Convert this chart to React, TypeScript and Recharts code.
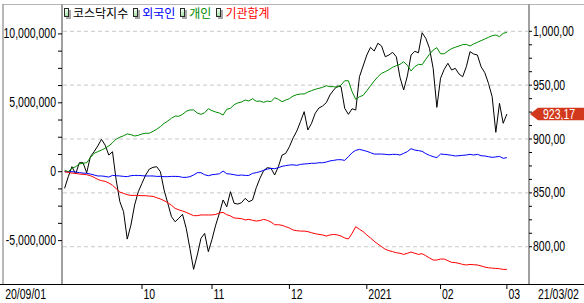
import { Customized, Line, LineChart, ReferenceLine, XAxis, YAxis } from "recharts";

// trading-day index 0 = 20/09/01, 120 = 21/03/02
const MONTH_TICKS = [21, 40, 61, 82, 102, 120];
const MONTH_LABELS = ["10", "11", "12", "2021", "02", "03"];
const START_LABEL = "20/09/01";
const END_LABEL = "21/03/02";

// KOSDAQ index (right axis)
const kosdaq = [
  854.2, 865.0, 874.3, 867.5, 878.0, 878.0, 868.7, 883.6, 888.2, 893.5,
  899.7, 894.4, 885.1, 888.2, 861.9, 841.8, 832.5, 807.1, 820.1, 838.7,
  851.1, 858.9, 866.6, 872.1, 873.7, 874.3, 869.6, 852.6, 840.3, 827.9,
  823.2, 826.4, 830.1, 817.1, 798.5, 779.0, 792.3, 807.8, 812.4, 795.4,
  806.9, 820.1, 831.0, 843.4, 837.1, 851.1, 840.3, 839.6, 840.9, 844.9,
  841.8, 843.4, 854.8, 863.5, 870.6, 873.4, 872.8, 866.6, 874.3, 885.1,
  886.7, 892.9, 901.0, 907.4, 916.1, 925.4, 908.4, 914.6, 923.9, 928.8,
  930.6, 933.7, 940.9, 945.5, 949.2, 948.6, 928.5, 922.9, 928.1, 926.9,
  957.8, 967.8, 978.0, 985.1, 981.7, 988.9, 986.4, 976.4, 978.0, 980.5,
  976.4, 957.3, 945.5, 958.6, 978.0, 981.4, 980.1, 998.7, 993.5, 984.2,
  965.6, 929.4, 956.4, 964.7, 970.3, 964.1, 965.6, 960.4, 957.8, 967.1,
  981.1, 978.9, 978.0, 967.1, 961.6, 951.7, 939.3, 906.2, 933.1, 914.6,
  923.17,
];

// cumulative net buying, millions (left axis)
const foreign = [
  0, 0, 0, -0.02, -0.07, -0.1, -0.12, -0.17, -0.24, -0.31,
  -0.31, -0.34, -0.39, -0.27, -0.29, -0.31, -0.34, -0.36, -0.29, -0.27,
  -0.27, -0.29, -0.31, -0.31, -0.31, -0.34, -0.34, -0.36, -0.36, -0.34,
  -0.34, -0.35, -0.41, -0.41, -0.36, -0.24, -0.07, -0.07, -0.22, -0.29,
  -0.22, -0.19, -0.15, 0.05, -0.15, -0.17, -0.22, -0.27, -0.24, -0.27,
  -0.27, -0.12, -0.07, 0, 0.1, 0.19, 0.24, 0.22, 0.29, 0.39,
  0.44, 0.48, 0.5, 0.46, 0.53, 0.56, 0.58, 0.61, 0.61, 0.65,
  0.65, 0.7, 0.78, 0.82, 0.87, 0.87, 0.82, 1.09, 1.38, 1.55,
  1.62, 1.55, 1.48, 1.38, 1.28, 1.28, 1.28, 1.26, 1.23, 1.26,
  1.26, 1.21, 1.33, 1.46, 1.67, 1.57, 1.53, 1.48, 1.31, 1.19,
  1.09, 1.02, 1.28, 1.26, 1.23, 1.19, 1.14, 1.16, 1.19, 1.21,
  1.26, 1.21, 1.26, 1.16, 1.14, 1.09, 1.04, 1.07, 1.11, 0.97,
  1.02,
];

const retail = [
  0.1, 0, 0.25, 0.36, 0.56, 0.61, 0.65, 1.02, 1.33, 1.45,
  1.57, 1.7, 1.87, 2.1, 2.37, 2.5, 2.61, 2.74, 2.69, 2.59,
  2.64, 2.74, 2.79, 2.79, 2.93, 3.08, 3.27, 3.51, 3.68, 3.88,
  4.04, 4.02, 4.16, 4.38, 4.48, 4.48, 4.26, 4.16, 4.28, 4.57,
  4.43, 4.33, 4.26, 4.11, 4.53, 4.6, 4.86, 4.99, 5.06, 5.2,
  5.13, 5.3, 5.11, 5.13, 5.03, 5.13, 5.08, 5.37, 5.25, 5.08,
  5.2, 5.3, 5.49, 5.59, 5.64, 5.64, 5.78, 5.88, 5.98, 6.05,
  6.12, 6.24, 6.17, 6.17, 6.12, 6.29, 6.6, 6.6, 5.81, 5.25,
  5.44, 5.54, 5.88, 6.24, 6.58, 6.89, 7.14, 7.26, 7.4, 7.58,
  7.69, 7.79, 7.98, 7.72, 7.31, 7.62, 7.79, 7.76, 8.16, 8.52,
  8.83, 9.0, 8.56, 8.56, 8.76, 8.93, 9.03, 9.12, 9.22, 9.24,
  9.12, 9.27, 9.39, 9.51, 9.63, 9.75, 9.87, 9.92, 9.8, 10.04,
  10.11,
];

const institution = [
  0, -0.05, -0.1, -0.12, -0.17, -0.19, -0.22, -0.29, -0.41, -0.56,
  -0.65, -0.7, -0.82, -0.99, -1.23, -1.48, -1.57, -1.67, -1.72, -1.72,
  -1.72, -1.74, -1.74, -1.77, -1.79, -1.89, -1.98, -2.1, -2.25, -2.44,
  -2.66, -2.77, -2.85, -2.95, -3.07, -3.19, -3.19, -3.14, -3.14, -3.14,
  -3.14, -3.1, -3.0, -2.95, -3.12, -3.21, -3.36, -3.38, -3.41, -3.5,
  -3.46, -3.53, -3.58, -3.55, -3.46, -3.53, -3.65, -3.85, -3.85, -3.89,
  -3.99, -4.09, -4.23, -4.28, -4.31, -4.31, -4.35, -4.43, -4.5, -4.55,
  -4.59, -4.67, -4.59, -4.55, -4.59, -4.67, -4.81, -4.88, -4.47, -3.99,
  -4.18, -4.35, -4.59, -4.81, -5.05, -5.25, -5.44, -5.63, -5.73, -5.8,
  -5.88, -5.92, -6.0, -5.92, -5.83, -5.92, -6.0, -5.95, -6.1, -6.26,
  -6.41, -6.41, -6.34, -6.34, -6.46, -6.58, -6.6, -6.65, -6.73, -6.77,
  -6.73, -6.75, -6.77, -6.84, -6.92, -6.97, -7.0, -7.02, -7.04, -7.09,
  -7.09,
];

const LEFT_TICKS = [-5, -3.75, -2.5, -1.25, 0, 1.25, 2.5, 3.75, 5, 6.25, 7.5, 8.75, 10];
const LEFT_MAJOR = [-5, 0, 5, 10];
const RIGHT_TICKS = [
  800, 812.5, 825, 837.5, 850, 862.5, 875, 887.5, 900, 912.5, 925, 937.5, 950, 962.5,
  975, 987.5, 1000,
];
const RIGHT_MAJOR = [800, 850, 900, 950, 1000];

const SERIES = [
  { key: "kosdaq", name: "코스닥지수", color: "#000000", axis: "right" },
  { key: "foreign", name: "외국인", color: "#0000ff", axis: "left" },
  { key: "retail", name: "개인", color: "#008c00", axis: "left" },
  { key: "institution", name: "기관합계", color: "#ff0000", axis: "left" },
];

const X_MIN = -0.7;
const X_MAX = 126;
const AXIS_FONT = "'Liberation Sans', Arial, sans-serif";
const KO_FONT = "'Noto Sans CJK KR', 'Noto Sans', sans-serif";

const rows = kosdaq.map((k, i) => ({
  i,
  kosdaq: k,
  foreign: foreign[i],
  retail: retail[i],
  institution: institution[i],
}));

function fmtIndex(v: number): string {
  const [int, dec] = v.toFixed(2).split(".");
  return `${Number(int).toLocaleString("en-US")},${dec}`;
}

function fmtVolume(v: number): string {
  return Math.round(v * 1e6).toLocaleString("en-US");
}

// the source chart uses a tall narrow bitmap font: squeeze Liberation Sans horizontally
function NarrowText({ x, y, anchor = "start", fill = "#000", children }: any) {
  return (
    <text
      transform={`translate(${x} ${y}) scale(0.75 1)`}
      textAnchor={anchor}
      fill={fill}
      style={{ fontSize: 14, fontFamily: AXIS_FONT }}
    >
      {children}
    </text>
  );
}

function DateTick(props: any) {
  const { x, y, payload } = props;
  const v = payload.value;
  if (v === X_MIN) {
    return (
      <NarrowText x={x - 16} y={y + 15} anchor="end">
        {START_LABEL}
      </NarrowText>
    );
  }
  if (v === X_MAX) {
    return (
      <NarrowText x={x + 9} y={y + 15}>
        {END_LABEL}
      </NarrowText>
    );
  }
  const label = MONTH_LABELS[MONTH_TICKS.indexOf(v)];
  return (
    <g>
      <line x1={x} x2={x} y1={y} y2={y + 5} stroke="#000" />
      <NarrowText x={x + 1.5} y={y + 15}>
        {label}
      </NarrowText>
    </g>
  );
}

function LeftTick(props: any) {
  const { x, y, payload } = props;
  if (!LEFT_MAJOR.includes(payload.value)) return null;
  return (
    <NarrowText x={x} y={y + 4.5} anchor="end">
      {fmtVolume(payload.value)}
    </NarrowText>
  );
}

function RightTick(props: any) {
  const { x, y, payload } = props;
  if (!RIGHT_MAJOR.includes(payload.value)) return null;
  return (
    <NarrowText x={x} y={y + 4.5}>
      {fmtIndex(payload.value)}
    </NarrowText>
  );
}

function LastValueTag(props: any) {
  const { x, y, width } = props.viewBox;
  const left = x + width + 1;
  const h = 6.3;
  return (
    <g>
      <polygon
        points={`${left},${y} ${left + 8},${y - h} ${left + 55},${y - h} ${left + 55},${y + h} ${left + 8},${y + h}`}
        fill="#d2381c"
      />
      <NarrowText x={left + 13} y={y + 5} fill="#fff">
        {fmtIndex(kosdaq[kosdaq.length - 1])}
      </NarrowText>
    </g>
  );
}

function Frame() {
  return (
    <g>
      <line x1={3} y1={4.5} x2={584} y2={4.5} stroke="#b4b4b4" />
      <line x1={3} y1={4} x2={3} y2={284} stroke="#a0a0a0" strokeWidth={1.5} />
      <line x1={0} y1={284.5} x2={584} y2={284.5} stroke="#000" />
    </g>
  );
}

function LegendIcon() {
  return (
    <span style={{ position: "relative", display: "inline-block", width: 8, height: 11, marginRight: 1 }}>
      <span style={{ position: "absolute", left: 2, top: 2, width: 5, height: 9, background: "#a8a8a8" }} />
      <span
        style={{
          position: "absolute",
          left: 0,
          top: 0,
          width: 3,
          height: 7,
          border: "1px solid #2a2a2a",
          background: "linear-gradient(#f0fff0, #a8e0a8)",
        }}
      />
    </span>
  );
}

export default function App() {
  return (
    <div
      style={{
        position: "absolute",
        left: 0,
        top: 0,
        width: 584,
        height: 303,
        background: "#fff",
        overflow: "hidden",
      }}
    >
      <LineChart width={584} height={303} data={rows} margin={{ top: 4, right: 0, bottom: 0, left: 0 }}>
        <Customized component={Frame} />
        <XAxis
          dataKey="i"
          type="number"
          domain={[X_MIN, X_MAX]}
          ticks={[X_MIN, ...MONTH_TICKS, X_MAX]}
          interval={0}
          height={19}
          tickSize={0}
          tickMargin={0}
          tickLine={false}
          axisLine={false}
          tick={<DateTick />}
          allowDataOverflow
        />
        <YAxis
          yAxisId="left"
          domain={[-8.15, 12.17]}
          ticks={LEFT_TICKS}
          interval={0}
          width={62}
          tickSize={4}
          tickMargin={2}
          axisLine={{ stroke: "#a0a0a0", strokeWidth: 2 }}
          tickLine={{ stroke: "#000" }}
          tick={<LeftTick />}
          allowDataOverflow
        />
        <YAxis
          yAxisId="right"
          orientation="right"
          domain={[765.4, 1025.35]}
          ticks={RIGHT_TICKS}
          interval={0}
          width={55}
          tickSize={3}
          tickMargin={1}
          axisLine={{ stroke: "#a0a0a0", strokeWidth: 2 }}
          tickLine={{ stroke: "#000" }}
          tick={<RightTick />}
          allowDataOverflow
        />
        {RIGHT_MAJOR.map((v) => (
          <ReferenceLine
            key={v}
            yAxisId="right"
            y={v}
            stroke="#c8c8c8"
            strokeDasharray="4 3"
          />
        ))}
        {SERIES.map((s) => (
          <Line
            key={s.key}
            yAxisId={s.axis}
            type="linear"
            dataKey={s.key}
            name={s.name}
            stroke={s.color}
            strokeWidth={1}
            dot={false}
            activeDot={false}
            isAnimationActive={false}
          />
        ))}
        <ReferenceLine
          yAxisId="right"
          y={kosdaq[kosdaq.length - 1]}
          stroke="none"
          label={<LastValueTag />}
        />
      </LineChart>
      <div
        style={{
          position: "absolute",
          left: 64,
          top: 7,
          display: "flex",
          alignItems: "center",
          fontFamily: KO_FONT,
          fontSize: 12,
          lineHeight: "12px",
        }}
      >
        {SERIES.map((s) => (
          <span key={s.key} style={{ display: "flex", alignItems: "center", marginRight: 5, color: s.color }}>
            <LegendIcon />
            {s.name}
          </span>
        ))}
      </div>
    </div>
  );
}
